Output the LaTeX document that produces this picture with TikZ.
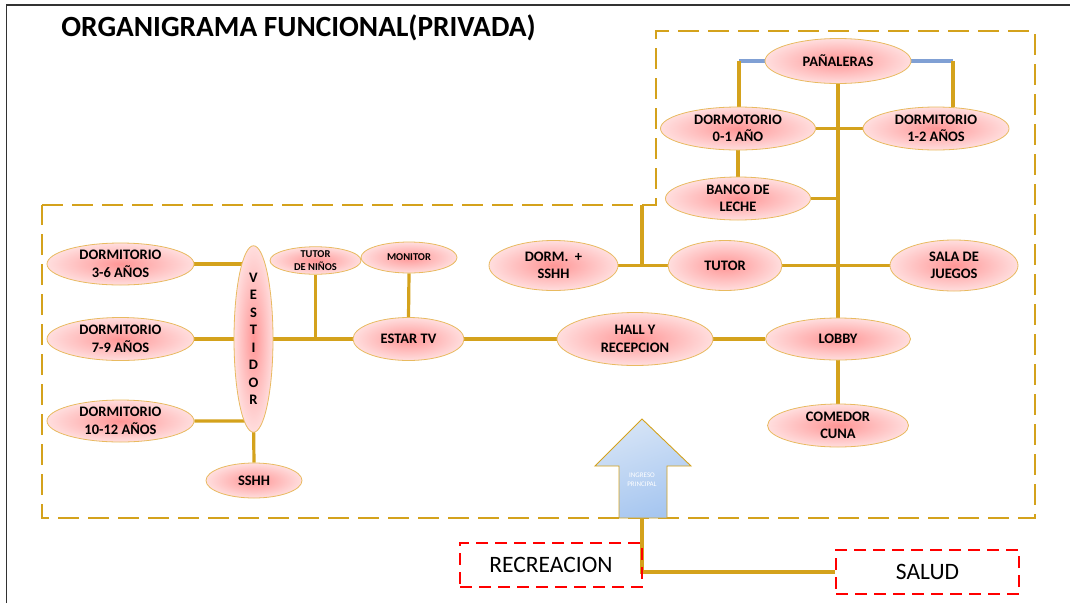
\documentclass[tikz,border=0pt]{standalone}
\usepackage{fontspec}
\setmainfont{Carlito}
\usetikzlibrary{shapes.geometric,backgrounds}
\definecolor{gold}{RGB}{212,162,28}
\definecolor{edgegold}{RGB}{232,186,96}
\definecolor{pinkin}{RGB}{255,150,150}
\definecolor{pinkout}{RGB}{255,222,222}
\definecolor{linkblue}{RGB}{128,160,212}
\definecolor{arrtop}{RGB}{214,228,246}
\definecolor{arrbot}{RGB}{166,198,240}
\definecolor{framegray}{RGB}{50,50,50}
\tikzset{
  room/.style={ellipse, draw=edgegold, line width=0.8pt, inner color=pinkin, outer color=pinkout,
    inner sep=0pt, align=center, font=\bfseries\fontsize{14.5}{17.5}\selectfont},
  smallroom/.style={room, font=\bfseries\fontsize{10.5}{12.5}\selectfont},
  link/.style={draw=gold, line width=3.2pt},
  bluelink/.style={draw=linkblue, line width=3.2pt},
  zone/.style={draw=gold, line width=2.6pt, dash pattern=on 21pt off 9pt},
  extbox/.style={draw=red, line width=2.6pt, dash pattern=on 12pt off 7pt, minimum width=182pt,
    minimum height=44pt, inner sep=0pt, font=\fontsize{23.5}{28}\selectfont},
}
\begin{document}
\begin{tikzpicture}[x=1pt,y=-1pt]
\useasboundingbox (0,0) rectangle (1070,603);
% frame
\draw[framegray, line width=1.6pt] (6.5,603) -- (6.5,5) -- (1070,5);
% title
\node[font=\bfseries\fontsize{29.3}{35}\selectfont, inner sep=0pt] (title) at (298.5,28) {ORGANIGRAMA FUNCIONAL(PRIVADA)};
% rooms
\node[room, minimum width=146pt, minimum height=45pt] (pan) at (838,61) {PAÑALERAS};
\node[room, minimum width=155pt, minimum height=43pt] (d01) at (738,128.5) {DORMOTORIO\\0-1 AÑO};
\node[room, minimum width=146pt, minimum height=43pt] (d12) at (936,128.5) {DORMITORIO\\1-2 AÑOS};
\node[room, minimum width=145pt, minimum height=43pt] (banco) at (738,198.5) {BANCO DE\\LECHE};
\node[room, minimum width=129pt, minimum height=50pt] (dorm) at (553.5,265.5) {DORM.\ \ +\\SSHH};
\node[room, minimum width=114pt, minimum height=50pt] (tutor) at (725,265.5) {TUTOR};
\node[room, minimum width=128pt, minimum height=51pt] (sala) at (954,265.5) {SALA DE\\JUEGOS};
\node[room, minimum width=147pt, minimum height=42pt] (d36) at (120.5,264) {DORMITORIO\\3-6 AÑOS};
\node[room, minimum width=147pt, minimum height=43pt] (d79) at (120.5,339) {DORMITORIO\\7-9 AÑOS};
\node[room, minimum width=147pt, minimum height=42pt] (d1012) at (120.5,421) {DORMITORIO\\10-12 AÑOS};
\node[room, minimum width=39pt, minimum height=162pt] (ves) at (253.5,339) {V\\E\\S\\T\\I\\D\\O\\R};
\node[smallroom, minimum width=91pt, minimum height=27pt] (tn) at (315.5,260.5) {TUTOR\\DE NIÑOS};
\node[smallroom, minimum width=96pt, minimum height=31pt] (mon) at (409,257.5) {MONITOR};
\node[room, minimum width=111pt, minimum height=43pt] (estar) at (408.5,339) {ESTAR TV};
\node[room, minimum width=156pt, minimum height=53pt] (hall) at (635,339) {HALL Y\\RECEPCION};
\node[room, minimum width=145pt, minimum height=42pt] (lobby) at (838,339) {LOBBY};
\node[room, minimum width=141pt, minimum height=43pt] (comedor) at (838,425.5) {COMEDOR\\CUNA};
\node[room, minimum width=96pt, minimum height=35pt] (sshh) at (254,480.5) {SSHH};
% external boxes
\node[extbox] (rec) at (551,565) {RECREACION};
\node[extbox, minimum width=183pt] (salud) at (927.5,572) {SALUD};
% entrance arrow
\coordinate (atip) at (642,419);
\coordinate (abase) at (642,518);
\draw[draw=gold, line width=0.9pt, shading=axis, top color=arrtop, bottom color=arrbot, shading angle=20]
  (atip) -- (691,466) -- (667,466) -- (667,518) -- (619,518) -- (619,466) -- (595,466) -- cycle;
\node[text=white, inner sep=0pt, align=center, font=\fontsize{7}{9}\selectfont] (ingreso) at (642,480) {INGRESO\\PRINCIPAL};
% connectors and zones
\begin{scope}[on background layer]
  \draw[zone] (42,205) -- (656,205) -- (656,31) -- (1035,31) -- (1035,518) -- (42,518) -- cycle;
  \coordinate (bl) at (739,61);
  \coordinate (br) at (953,61);
  \draw[bluelink] (pan.west) -- (bl);
  \draw[bluelink] (pan.east) -- (br);
  \draw[link] (bl) -- (bl |- d01.north);
  \draw[link] (br) -- (br |- d12.north);
  \draw[link] (pan.south) -- (pan.south |- lobby.north);
  \draw[link] (d01.east) -- (d12.west);
  \draw[link] (d01.south) -- (banco.north);
  \draw[link] (banco.east) -- (banco.east -| pan.south);
  \coordinate (dj) at (642,205);
  \draw[link] (dj) -- (dj |- tutor.west);
  \draw[link] (dorm.east) -- (tutor.west);
  \draw[link] (tutor.east) -- (sala.west);
  \draw[link] (estar.east) -- (hall.west);
  \draw[link] (hall.east) -- (lobby.west);
  \draw[link] (lobby.south) -- (comedor.north);
  \draw[link] (mon.south) -- (estar.north);
  \draw[link] (ves.east) -- (estar.west);
  \draw[link] (tn.south) -- (tn.south |- ves.east);
  \draw[link] (d36.east) -- (d36.east -| ves.center);
  \draw[link] (d79.east) -- (ves.west);
  \draw[link] (d1012.east) -- (d1012.east -| ves.center) -- (sshh.north);
  \draw[link] (abase) -- (abase |- salud.west) -- (salud.west);
\end{scope}
\end{tikzpicture}
\end{document}
